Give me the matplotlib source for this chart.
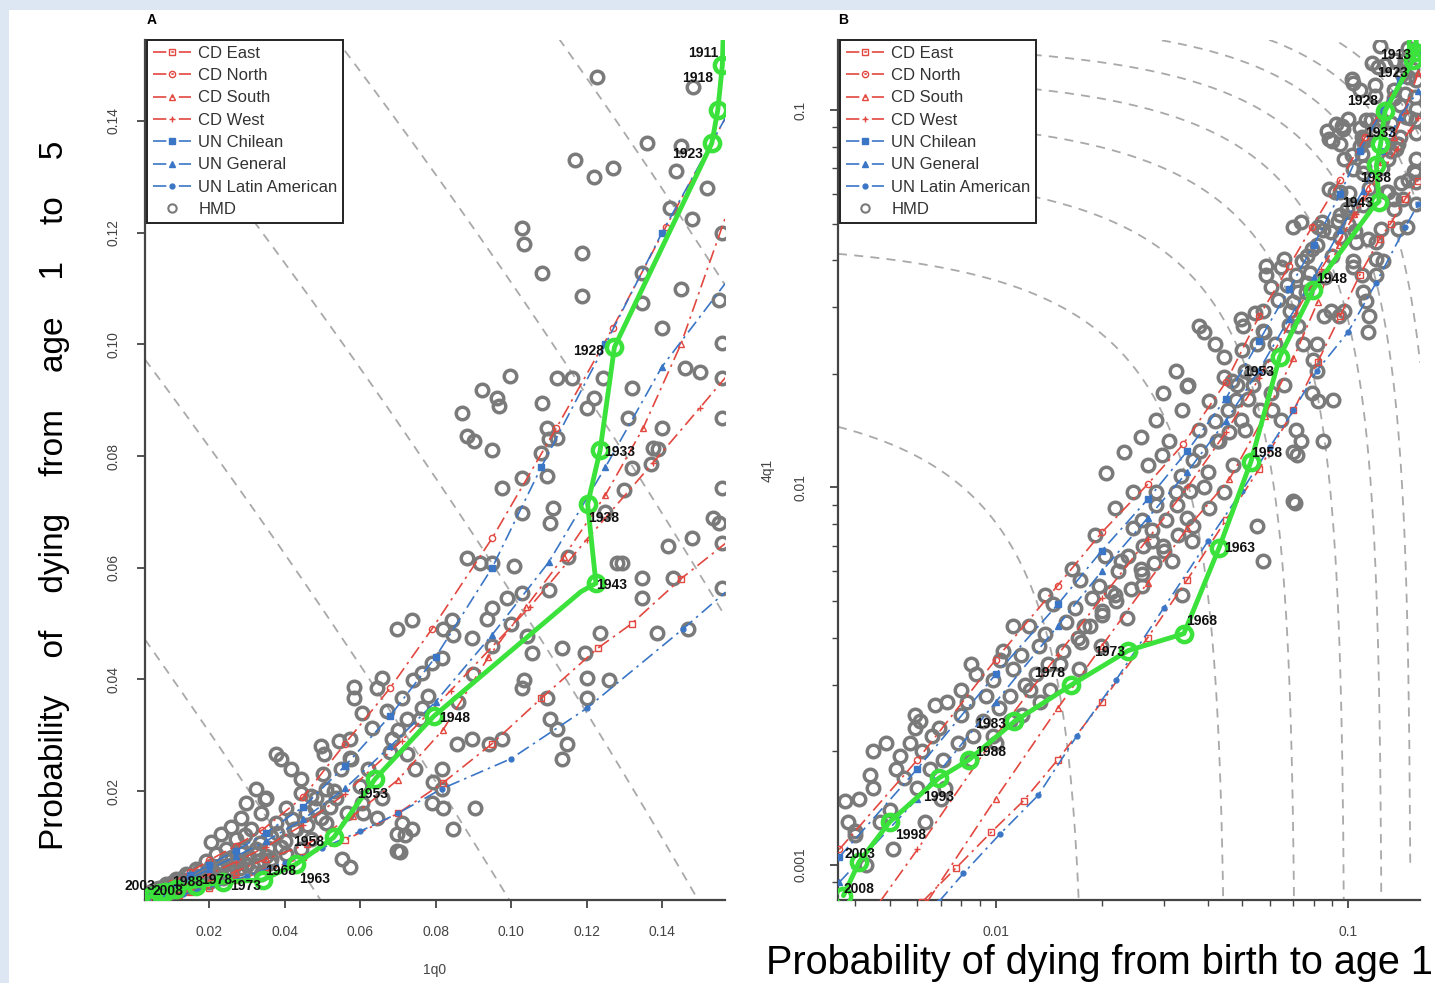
import numpy as np
import matplotlib
matplotlib.use('Agg')
import matplotlib.pyplot as plt
from matplotlib.patches import Rectangle

plt.rcParams['font.family'] = ['Liberation Sans', 'DejaVu Sans']

# ---------------- data: (1q0, 4q1) ----------------
# Coale-Demeny model life table families
cd_east_q0 = [0.0062, 0.0077, 0.0097, 0.012, 0.015, 0.020, 0.027, 0.035, 0.045, 0.056, 0.070, 0.082, 0.095, 0.108, 0.123, 0.132, 0.145, 0.158]
cd_east_q4 = [0.0008, 0.00098, 0.00122, 0.00148, 0.0019, 0.0027, 0.0040, 0.0057, 0.0082, 0.0112, 0.0160, 0.0215, 0.0285, 0.0366, 0.0456, 0.0500, 0.0580, 0.0650]

cd_north_q0 = [0.0036, 0.006, 0.010, 0.015, 0.020, 0.027, 0.034, 0.045, 0.056, 0.068, 0.079, 0.095, 0.112, 0.127, 0.141, 0.158]
cd_north_q4 = [0.0011, 0.0019, 0.0035, 0.0055, 0.0076, 0.0102, 0.0130, 0.0190, 0.0285, 0.0385, 0.0490, 0.0653, 0.0850, 0.1030, 0.1210, 0.1420]

cd_south_q0 = [0.0064, 0.010, 0.015, 0.020, 0.027, 0.035, 0.046, 0.058, 0.070, 0.082, 0.094, 0.104, 0.114, 0.125, 0.135, 0.145, 0.158]
cd_south_q4 = [0.0008, 0.0015, 0.0026, 0.0038, 0.0056, 0.0078, 0.0105, 0.0155, 0.0220, 0.0310, 0.0440, 0.0530, 0.0620, 0.0730, 0.0850, 0.1000, 0.1250]

cd_west_q0 = [0.0047, 0.006, 0.010, 0.015, 0.020, 0.027, 0.035, 0.045, 0.056, 0.071, 0.084, 0.105, 0.120, 0.1375, 0.150, 0.158]
cd_west_q4 = [0.0008, 0.0011, 0.0022, 0.0036, 0.0051, 0.0073, 0.0100, 0.0140, 0.0195, 0.0290, 0.0380, 0.0530, 0.0650, 0.0787, 0.0886, 0.0950]

# UN model life tables
un_chilean_q0 = [0.0036, 0.006, 0.010, 0.015, 0.020, 0.027, 0.035, 0.045, 0.056, 0.068, 0.080, 0.095, 0.108, 0.125, 0.140, 0.158]
un_chilean_q4 = [0.00105, 0.0018, 0.0032, 0.0049, 0.0068, 0.0093, 0.0125, 0.0172, 0.0245, 0.0335, 0.0440, 0.0600, 0.0780, 0.1000, 0.1200, 0.1420]

un_general_q0 = [0.0036, 0.006, 0.010, 0.015, 0.020, 0.027, 0.035, 0.045, 0.056, 0.068, 0.080, 0.095, 0.110, 0.125, 0.140, 0.158]
un_general_q4 = [0.0009, 0.0015, 0.0027, 0.0043, 0.0060, 0.0083, 0.0110, 0.0150, 0.0205, 0.0280, 0.0360, 0.0480, 0.0610, 0.0780, 0.0960, 0.1120]

un_latin_q0 = [0.0069, 0.0081, 0.0103, 0.0132, 0.017, 0.022, 0.030, 0.040, 0.050, 0.060, 0.070, 0.0816, 0.100, 0.120, 0.1455, 0.158]
un_latin_q4 = [0.0008, 0.00095, 0.00121, 0.00153, 0.0022, 0.0031, 0.0048, 0.0072, 0.0098, 0.0128, 0.0160, 0.0204, 0.0258, 0.0348, 0.0490, 0.0563]

# Human Mortality Database observations
hmd_points = [
    (0.117, 0.133), (0.1219, 0.130), (0.127, 0.1315), (0.136, 0.136), (0.1451, 0.1355), (0.1438, 0.131),
    (0.1422, 0.1245), (0.148, 0.1225), (0.1483, 0.146), (0.1229, 0.1478), (0.1029, 0.1209), (0.1189, 0.1164),
    (0.1082, 0.1128), (0.1189, 0.1087), (0.1348, 0.1128), (0.140, 0.103), (0.146, 0.0958), (0.156, 0.1003),
    (0.156, 0.094), (0.156, 0.0868), (0.156, 0.0743), (0.155, 0.068), (0.1348, 0.1074), (0.132, 0.0922),
    (0.131, 0.0868), (0.1245, 0.094), (0.122, 0.0904), (0.120, 0.0886), (0.1162, 0.094), (0.1122, 0.094),
    (0.0997, 0.0944), (0.0923, 0.0918), (0.0963, 0.0904), (0.0968, 0.089), (0.087, 0.0877), (0.0883, 0.0836),
    (0.0902, 0.0827), (0.095, 0.0811), (0.1082, 0.0895), (0.1096, 0.085), (0.1122, 0.0832), (0.108, 0.0805),
    (0.1375, 0.0814), (0.139, 0.0812), (0.137, 0.0786), (0.132, 0.0778), (0.156, 0.120), (0.152, 0.128),
    (0.1029, 0.076), (0.1096, 0.0764), (0.111, 0.0707), (0.1104, 0.068), (0.0976, 0.0743), (0.103, 0.0698),
    (0.0883, 0.0617), (0.0918, 0.0608), (0.095, 0.0608), (0.1008, 0.0603), (0.103, 0.0554), (0.099, 0.0545),
    (0.095, 0.0527), (0.0936, 0.0509), (0.0843, 0.0506), (0.082, 0.0491), (0.0896, 0.0474), (0.0816, 0.0438),
    (0.079, 0.0429), (0.0763, 0.0411), (0.0737, 0.0506), (0.0697, 0.0491), (0.0657, 0.0402), (0.0644, 0.0384),
    (0.0585, 0.0387), (0.0585, 0.0366), (0.0604, 0.0339), (0.0572, 0.0294), (0.0543, 0.029), (0.0497, 0.028),
    (0.0505, 0.0267), (0.0444, 0.0222), (0.0763, 0.0348), (0.0723, 0.033), (0.071, 0.0366), (0.067, 0.0344),
    (0.0684, 0.0294), (0.0723, 0.0267), (0.0745, 0.024), (0.0816, 0.024), (0.0856, 0.0285), (0.0896, 0.0294),
    (0.0941, 0.0285), (0.0976, 0.0294), (0.103, 0.0384), (0.1096, 0.0366), (0.1104, 0.033), (0.1122, 0.0312),
    (0.1202, 0.0402), (0.1202, 0.0366), (0.1237, 0.0483), (0.1197, 0.0447), (0.1136, 0.0456), (0.1043, 0.0477),
    (0.1056, 0.0447), (0.128, 0.0608), (0.1295, 0.0608), (0.1348, 0.0581), (0.1348, 0.0545), (0.1415, 0.0639),
    (0.1428, 0.0581), (0.148, 0.0653), (0.1388, 0.0483), (0.1468, 0.0491), (0.156, 0.0563), (0.1535, 0.0689),
    (0.156, 0.0644), (0.1149, 0.0285), (0.1136, 0.0258), (0.0816, 0.0204), (0.079, 0.0178), (0.082, 0.0169),
    (0.071, 0.0142), (0.0737, 0.0133), (0.0697, 0.0124), (0.0705, 0.0091), (0.0604, 0.0178), (0.0644, 0.0151),
    (0.0657, 0.0187), (0.0497, 0.0151), (0.0349, 0.0186), (0.0697, 0.0092),
    (0.0351, 0.0187), (0.0444, 0.0196), (0.0418, 0.024), (0.0391, 0.0258), (0.0378, 0.0267), (0.0324, 0.0204),
    (0.0298, 0.0178), (0.0285, 0.0151), (0.0311, 0.0133), (0.0338, 0.016), (0.0378, 0.0142), (0.0404, 0.0169),
    (0.0431, 0.0133), (0.0457, 0.016), (0.0484, 0.0187), (0.051, 0.0204), (0.055, 0.024), (0.0577, 0.0258),
    (0.0537, 0.0187), (0.051, 0.0142), (0.0471, 0.0115), (0.0444, 0.0097), (0.0404, 0.0088), (0.0364, 0.0079),
    (0.0324, 0.0097), (0.0271, 0.0115), (0.0245, 0.0097), (0.0218, 0.0088), (0.0191, 0.0075), (0.0165, 0.0061),
    (0.0138, 0.0052), (0.0112, 0.0043), (0.0085, 0.0034), (0.0059, 0.0025), (0.0045, 0.0020), (0.0205, 0.0109),
    (0.0231, 0.0124), (0.0258, 0.0136), (0.0285, 0.0097), (0.0298, 0.0070), (0.0338, 0.0052), (0.0258, 0.0061),
    (0.0218, 0.0052), (0.0178, 0.0043), (0.0152, 0.0034), (0.0125, 0.0029), (0.0098, 0.0022), (0.0072, 0.0016),
    (0.0364, 0.0118), (0.0391, 0.0100), (0.0564, 0.016), (0.0609, 0.016),
    (0.00373, 0.00148), (0.00398, 0.00123), (0.0044, 0.00173), (0.00535, 0.00195), (0.0061, 0.00241),
    (0.00674, 0.00265), (0.00795, 0.0029), (0.0103, 0.0035), (0.0085, 0.0019), (0.011, 0.0024), (0.0134, 0.0027),
    (0.0175, 0.0039), (0.020, 0.0047), (0.0227, 0.0064), (0.0213, 0.0053), (0.026, 0.0055), (0.0277, 0.0072),
    (0.0316, 0.0064), (0.036, 0.0072), (0.0296, 0.0122), (0.026, 0.0082), (0.0553, 0.0079), (0.0572, 0.0064),
    (0.0425, 0.0133), (0.0469, 0.0192), (0.0501, 0.0231), (0.0572, 0.026), (0.0632, 0.0313), (0.0741, 0.0399),
    (0.0847, 0.048), (0.0794, 0.0217), (0.0905, 0.017), (0.0847, 0.0133), (0.0718, 0.0122), (0.1035, 0.0399),
    (0.126, 0.0399), (0.110, 0.0831), (0.1035, 0.118),
    (0.0040, 0.0012), (0.0041, 0.0015), (0.0043, 0.0010), (0.0050, 0.0014), (0.0052, 0.0018), (0.0049, 0.0021),
    (0.0051, 0.0011), (0.0060, 0.0016), (0.0062, 0.0020), (0.0059, 0.0023), (0.0063, 0.0013), (0.0071, 0.0019),
    (0.0069, 0.0023), (0.0073, 0.0027), (0.0070, 0.0015), (0.0086, 0.0022), (0.0083, 0.0027), (0.0088, 0.0032),
    (0.0102, 0.0026), (0.0098, 0.0031), (0.0105, 0.0037), (0.0100, 0.0021), (0.0121, 0.0030), (0.0118, 0.0036),
    (0.0124, 0.0043), (0.0119, 0.0025), (0.0141, 0.0034), (0.0138, 0.0041), (0.0145, 0.0049), (0.0143, 0.0029),
    (0.0171, 0.0040), (0.0168, 0.0048), (0.0174, 0.0057), (0.0172, 0.0033), (0.0201, 0.0046), (0.0197, 0.0055),
    (0.0204, 0.0066), (0.0199, 0.0038), (0.0242, 0.0054), (0.0238, 0.0066), (0.0245, 0.0078), (0.0236, 0.0045),
    (0.0281, 0.0063), (0.0277, 0.0077), (0.0285, 0.0090), (0.0330, 0.0075), (0.0327, 0.0090), (0.0335, 0.0107),
    (0.0038, 0.0013), (0.0045, 0.0016), (0.0047, 0.0013), (0.0055, 0.0017), (0.0057, 0.0021), (0.0065, 0.0018),
    (0.0066, 0.0022), (0.0078, 0.0021), (0.0080, 0.0025), (0.0092, 0.0024), (0.0094, 0.0028), (0.0110, 0.0028),
    (0.0112, 0.0033), (0.0130, 0.0032), (0.0133, 0.0038), (0.0155, 0.0037), (0.0158, 0.0044), (0.0185, 0.0043),
    (0.0188, 0.0051), (0.0220, 0.0050), (0.0222, 0.0060), (0.0260, 0.0059), (0.0262, 0.0070), (0.0300, 0.0068),
    (0.0305, 0.0082), (0.0350, 0.0083), (0.0355, 0.0098), (0.0400, 0.0110), (0.0380, 0.0125), (0.0420, 0.0150),
    (0.0460, 0.0140), (0.0480, 0.0170), (0.0530, 0.0200), (0.0520, 0.0172), (0.0600, 0.0210), (0.0620, 0.0240),
    (0.0680, 0.0270), (0.0700, 0.0310), (0.0760, 0.0330), (0.0780, 0.0370), (0.0860, 0.0360), (0.0900, 0.0410),
    (0.0950, 0.0460), (0.1000, 0.0500), (0.1100, 0.0560), (0.1150, 0.0620), (0.1250, 0.0700), (0.1300, 0.0740),
    (0.1400, 0.0850), (0.1500, 0.0950), (0.1450, 0.1100), (0.1550, 0.1080),
]

# Chile, annual estimates (1q0, 4q1)
chile_year = [1909, 1913, 1918, 1923, 1928, 1933, 1938, 1943, 1945, 1948, 1953, 1958, 1963, 1968, 1973, 1978, 1983, 1988, 1993, 1998, 2003, 2008]
chile_q0 = [0.1570, 0.1560, 0.1548, 0.1532, 0.1274, 0.1236, 0.1203, 0.1225, 0.1185, 0.0795, 0.0640, 0.0530, 0.0430, 0.0342, 0.0238, 0.0164, 0.0113, 0.0084, 0.0069, 0.0050, 0.0041, 0.0037]
chile_q4 = [0.1750, 0.1500, 0.1420, 0.1360, 0.0995, 0.0810, 0.0714, 0.0572, 0.0557, 0.0334, 0.0222, 0.0117, 0.0069, 0.0041, 0.0037, 0.0030, 0.0024, 0.0019, 0.0017, 0.0013, 0.00102, 0.00083]

# 5q0 iso-lines drawn as guides
iso_levels_a = [0.05, 0.10, 0.15, 0.20, 0.25]
iso_levels_b = [0.018, 0.045, 0.071, 0.098, 0.125, 0.151, 0.178, 0.204, 0.231, 0.257, 0.284]

RED = '#e2483f'
BLUE = '#3b76c6'
GREEN = '#3be23b'
GREY = '#7a7a7a'

models = [
    ('CD East', cd_east_q0, cd_east_q4, RED, 's', 'none'),
    ('CD North', cd_north_q0, cd_north_q4, RED, 'o', 'none'),
    ('CD South', cd_south_q0, cd_south_q4, RED, '^', 'none'),
    ('CD West', cd_west_q0, cd_west_q4, RED, '+', 'none'),
    ('UN Chilean', un_chilean_q0, un_chilean_q4, BLUE, 's', BLUE),
    ('UN General', un_general_q0, un_general_q4, BLUE, '^', BLUE),
    ('UN Latin American', un_latin_q0, un_latin_q4, BLUE, '.', BLUE),
]

# label offsets (pixels) per panel: year -> (dx, dy)
offsets_a = {1913: (-19, 12), 1918: (-20, 32), 1923: (-24, -11), 1928: (-26, -4), 1933: (20, -2),
             1938: (16, -14), 1943: (16, -2), 1948: (21, -2), 1953: (-3, -15), 1958: (-25, -5),
             1963: (19, -15), 1968: (18, 9), 1973: (22, -4), 1978: (21, 6), 1988: (22, 10),
             2003: (-9, 11), 2008: (20, 7)}
text_a = {1913: '1911'}
offsets_b = {1913: (-21, -12), 1923: (-21, -13), 1928: (-23, 10), 1933: (0, 11), 1938: (-1, -13),
             1943: (-22, -1), 1948: (19, 11), 1953: (-21, -15), 1958: (16, 9), 1963: (21, 0),
             1968: (18, 13), 1973: (-19, -1), 1978: (-22, 12), 1983: (-24, -3), 1988: (22, 8),
             1993: (0, -19), 1998: (21, -13), 2003: (1, 8), 2008: (15, 7)}

W, H = 1435, 983
fig = plt.figure(figsize=(W / 100, H / 100), dpi=100, facecolor='#dce7f3')
fig.patches.append(Rectangle((9 / W, 0), 1, 1 - 10 / H, transform=fig.transFigure,
                             facecolor='white', edgecolor='none', zorder=-5))

axA = fig.add_axes([145 / W, 1 - 900 / H, 580 / W, 860 / H])
axB = fig.add_axes([838 / W, 1 - 900 / H, 582 / W, 860 / H])
axA.set_zorder(2)
axB.set_zorder(2)


def draw(ax, log, xlim, ylim, levels, offsets, texts):
    if log:
        ax.set_xscale('log')
        ax.set_yscale('log')
        xs = np.geomspace(xlim[0], xlim[1], 600)
    else:
        xs = np.linspace(xlim[0], xlim[1], 600)
    for c in levels:
        ys = 1 - (1 - c) / (1 - xs)
        ok = ys > 0
        ax.plot(xs[ok], ys[ok], color='#a9a9a9', lw=1.3, dashes=(5, 4), zorder=1)

    hx = [p[0] for p in hmd_points]
    hy = [p[1] for p in hmd_points]
    ax.plot(hx, hy, ls='none', marker='o', ms=9, mfc='none', mec=GREY, mew=2.5, zorder=2)

    for name, q0, q4, col, mk, fc in models:
        ms = 7 if mk == '.' else 4.5
        ax.plot(q0, q4, color=col, lw=1.2, dashes=(8, 3, 1.5, 3), marker=mk, ms=ms,
                mfc=fc, mec=col, mew=1.0, label=name, zorder=3)
    ax.plot([], [], ls='none', marker='o', ms=6, mfc='none', mec=GREY, mew=1.5, label='HMD')

    ax.plot(chile_q0, chile_q4, color=GREEN, lw=3.5, zorder=4, solid_capstyle='round')
    for yr, x, y in zip(chile_year, chile_q0, chile_q4):
        if yr % 5 == 3:
            ax.plot([x], [y], ls='none', marker='o', ms=11, mfc='none', mec=GREEN, mew=3.2, zorder=4)
        if yr in offsets:
            t = ax.annotate(texts.get(yr, str(yr)), (x, y), xytext=offsets[yr], textcoords='offset pixels',
                            ha='center', va='center', fontsize=10, fontweight='bold', color='#111111',
                            zorder=5)
            t.set_clip_on(True)

    ax.set_xlim(*xlim)
    ax.set_ylim(*ylim)
    for s in ['top', 'right']:
        ax.spines[s].set_visible(False)
    for s in ['left', 'bottom']:
        ax.spines[s].set_color('#444444')
        ax.spines[s].set_linewidth(1.6)
    ax.tick_params(which='major', direction='out', length=6, width=1.3, color='#444444',
                   labelsize=10, labelcolor='#444444')
    ax.tick_params(which='minor', direction='out', length=4, width=1.0, color='#444444')
    ax.tick_params(axis='x', pad=12)
    ax.tick_params(axis='y', labelrotation=90)

    leg = ax.legend(loc='upper left', bbox_to_anchor=(0.003, 1.0), borderaxespad=0, fontsize=12,
                    labelspacing=0.44, handlelength=2.3, handletextpad=0.45, borderpad=0.35,
                    fancybox=False, framealpha=1, labelcolor='#333333')
    leg.get_frame().set_edgecolor('#222222')
    leg.get_frame().set_linewidth(1.4)
    leg.set_zorder(10)


draw(axA, False, (0.003, 0.1567), (0.0005, 0.1545), iso_levels_a, offsets_a, text_a)
axA.set_xticks([0.02, 0.04, 0.06, 0.08, 0.10, 0.12, 0.14],
               ['0.02', '0.04', '0.06', '0.08', '0.10', '0.12', '0.14'])
axA.set_yticks([0.02, 0.04, 0.06, 0.08, 0.10, 0.12, 0.14],
               ['0.02', '0.04', '0.06', '0.08', '0.10', '0.12', '0.14'])
axA.tick_params(axis='y', pad=12)

draw(axB, True, (0.00357, 0.160), (0.000808, 0.1532), iso_levels_b, offsets_b, {})
axB.set_xticks([0.01, 0.1], ['0.01', '0.1'])
axB.set_yticks([0.001, 0.01, 0.1], ['0.001', '0.01', '0.1'])
axB.xaxis.set_minor_formatter(matplotlib.ticker.NullFormatter())
axB.yaxis.set_minor_formatter(matplotlib.ticker.NullFormatter())
axB.tick_params(axis='y', pad=16)
for lab in axB.get_yticklabels() + axA.get_yticklabels():
    lab.set_va('center')

fig.text(152 / W, 1 - 20 / H, 'A', fontsize=10, fontweight='bold', ha='center', va='center')
fig.text(843 / W, 1 - 20 / H, 'B', fontsize=10, fontweight='bold', ha='center', va='center')
fig.text(435 / W, 1 - 970 / H, '1q0', fontsize=10, color='#444444', ha='center', va='center')
fig.text(768 / W, 1 - 470 / H, '4q1', fontsize=10, color='#444444', ha='center', va='center', rotation=90)

fig.text(55 / W, 1 - 495 / H, 'Probability    of    dying    from    age    1    to    5',
         fontsize=24, rotation=90, ha='center', va='center', color='black')
fig.text(1433 / W, 1 - 963 / H, 'Probability of dying from birth to age 1',
         fontsize=28.5, ha='right', va='center', color='black')

fig.savefig('out.png', dpi=100, facecolor=fig.get_facecolor())
